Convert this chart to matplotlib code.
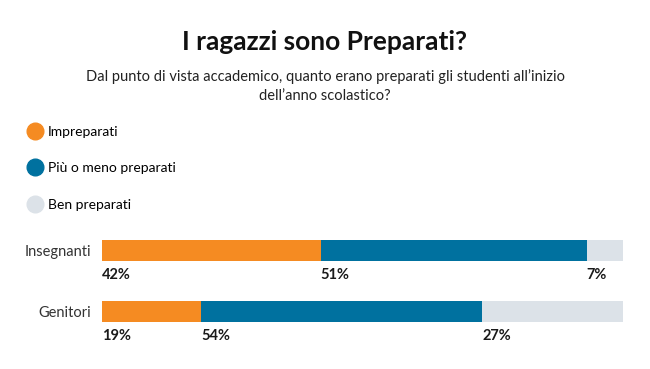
import numpy as np
import matplotlib
matplotlib.use("Agg")
import matplotlib.pyplot as plt
from matplotlib.lines import Line2D

plt.rcParams['font.family'] = ['Lato', 'DejaVu Sans']

groups = ["Insegnanti", "Genitori"]
categories = ["Impreparati", "Più o meno preparati", "Ben preparati"]
values = {
    "Impreparati": [42, 19],
    "Più o meno preparati": [51, 54],
    "Ben preparati": [7, 27],
}
colors = ["#F58B22", "#00719F", "#DCE2E8"]

title = "I ragazzi sono Preparati?"
subtitle = "Dal punto di vista accademico, quanto erano preparati gli studenti all’inizio\ndell’anno scolastico?"

W, H = 650, 369
fig = plt.figure(figsize=(6.5, 3.69), dpi=100)

# bars area
ax = fig.add_axes([102 / W, 1 - 345 / H, 521 / W, 115 / H])
y = np.arange(len(groups))
left = np.zeros(len(groups))
for cat, col in zip(categories, colors):
    vals = np.array(values[cat])
    ax.barh(y, vals, left=left, height=0.34, color=col, linewidth=0)
    for yi, (l, v) in enumerate(zip(left, vals)):
        ax.text(l, yi + 0.40, f"{v}%", ha="left", va="center",
                fontsize=10.5, fontweight="bold", color="#1a1a1a")
    left += vals

ax.set_xlim(0, 100)
ax.set_ylim(1.55, -0.34)
ax.set_yticks(y)
ax.set_yticklabels(groups, fontsize=10.5, color="#333333")
ax.tick_params(axis="y", length=0, pad=8)
ax.set_xticks([])
for s in ax.spines.values():
    s.set_visible(False)

fig.text(0.5, 1 - 42 / H, title, ha="center", va="center",
         fontsize=19, fontweight="bold", color="#111111")
fig.text(0.5, 1 - 86 / H, subtitle, ha="center", va="center",
         fontsize=10.5, color="#222222", linespacing=1.4)

handles = [Line2D([], [], marker="o", linestyle="none", markersize=12,
                  markerfacecolor=c, markeredgecolor=c) for c in colors]
fig.legend(handles, categories, loc="upper left",
           bbox_to_anchor=(27 / W, 1 - 126 / H), frameon=False,
           fontsize=10, handletextpad=0.3, labelspacing=1.75,
           handlelength=1.2, borderaxespad=0, borderpad=0)

fig.savefig("out.png", dpi=100)
